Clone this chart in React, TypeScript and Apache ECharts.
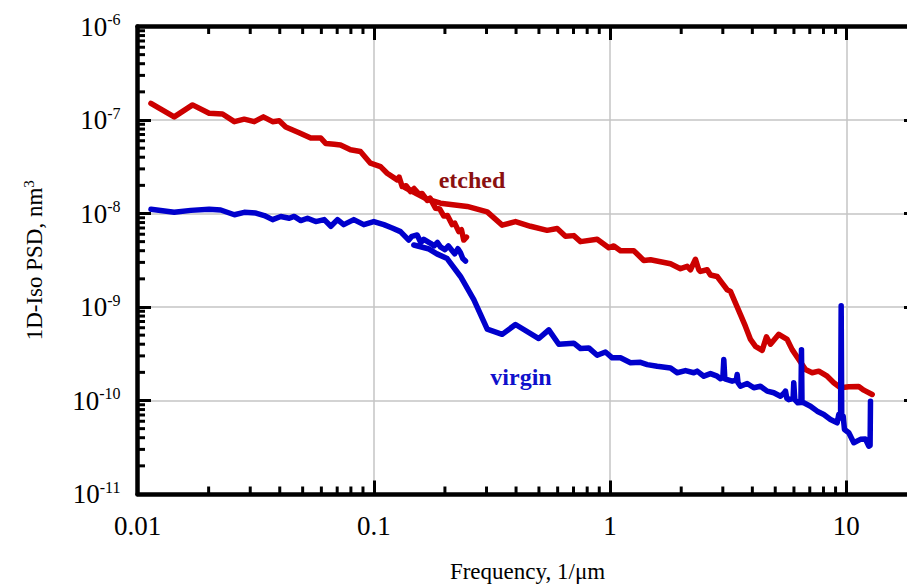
import React, { useEffect, useRef } from "react";
import * as echarts from "echarts";

const FONT = '"Liberation Serif", "Times New Roman", serif';

// x tick labels (decades)
const xTickLabels = ["0.01", "0.1", "1", "10"];
const minorMultipliers = [2, 3, 4, 5, 6, 7, 8, 9];
const xDecades = [0.01, 0.1, 1, 10];
const yDecades = [1e-11, 1e-10, 1e-9, 1e-8, 1e-7];

// etched sample, low-frequency scan
const etchedLow: [number, number][] = [
  [0.0114, 1.51e-7], [0.0143, 1.08e-7], [0.0171, 1.45e-7], [0.0201, 1.18e-7], [0.0229, 1.16e-7],
  [0.0257, 9.6e-8], [0.0283, 1.02e-7], [0.0312, 9.6e-8], [0.0341, 1.08e-7], [0.0373, 9.6e-8],
  [0.0398, 9.8e-8], [0.0424, 8.4e-8], [0.0483, 7.3e-8], [0.0541, 6.4e-8], [0.0597, 6.4e-8],
  [0.0627, 5.6e-8], [0.068, 5.5e-8], [0.0723, 5.4e-8], [0.0797, 4.8e-8], [0.0878, 4.6e-8],
  [0.0968, 3.45e-8], [0.1068, 3.17e-8], [0.1139, 2.7e-8], [0.1256, 2.29e-8], [0.128, 2.45e-8],
  [0.1319, 1.94e-8], [0.137, 1.98e-8], [0.143, 1.72e-8], [0.148, 1.85e-8], [0.155, 1.62e-8],
  [0.16, 1.64e-8], [0.1683, 1.38e-8], [0.173, 1.46e-8], [0.1824, 1.14e-8], [0.19, 1.12e-8],
  [0.1978, 9.4e-9], [0.205, 9.5e-9], [0.2147, 7.6e-9], [0.22, 7.9e-9], [0.2289, 6.4e-9],
  [0.235, 6.7e-9], [0.2403, 5.2e-9], [0.2468, 5.6e-9],
];

// etched sample, high-frequency scan
const etchedHigh: [number, number][] = [
  [0.136, 1.88e-8], [0.1683, 1.42e-8], [0.1915, 1.29e-8], [0.2485, 1.19e-8], [0.302, 1.04e-8],
  [0.3494, 7.5e-9], [0.3979, 8.2e-9], [0.4604, 7.3e-9], [0.5417, 6.6e-9], [0.5972, 6.9e-9],
  [0.6475, 5.7e-9], [0.7021, 5.8e-9], [0.7495, 5.0e-9], [0.8818, 5.3e-9], [0.9875, 4.3e-9],
  [1.037, 4.5e-9], [1.107, 4.0e-9], [1.26, 4.0e-9], [1.389, 3.15e-9], [1.483, 3.2e-9],
  [1.802, 2.9e-9], [1.986, 2.57e-9], [2.12, 2.72e-9], [2.189, 2.5e-9], [2.298, 3.24e-9],
  [2.374, 2.5e-9], [2.413, 2.4e-9], [2.576, 2.5e-9], [2.66, 2.2e-9], [2.839, 2.12e-9],
  [2.981, 1.8e-9], [3.13, 1.53e-9], [3.232, 1.47e-9], [3.395, 1.1e-9], [3.563, 8.3e-10],
  [3.741, 6.2e-10], [3.929, 4.5e-10], [4.124, 3.8e-10], [4.402, 3.44e-10], [4.59, 4.8e-10],
  [4.773, 4.0e-10], [5.175, 5.1e-10], [5.616, 4.5e-10], [5.897, 3.5e-10], [6.29, 2.74e-10],
  [6.713, 2.14e-10], [7.166, 1.98e-10], [7.641, 2.06e-10], [8.295, 1.82e-10], [8.846, 1.55e-10],
  [9.441, 1.37e-10], [10.24, 1.4e-10], [11.28, 1.41e-10], [11.85, 1.29e-10], [12.86, 1.16e-10],
];

// virgin sample, low-frequency scan
const virginLow: [number, number][] = [
  [0.0114, 1.11e-8], [0.0143, 1.03e-8], [0.0168, 1.08e-8], [0.0201, 1.11e-8], [0.0225, 1.09e-8],
  [0.0257, 9.7e-9], [0.0283, 1.03e-8], [0.0317, 1.01e-8], [0.0344, 9.5e-9], [0.0373, 8.6e-9],
  [0.0404, 9.3e-9], [0.0439, 8.9e-9], [0.046, 9.3e-9], [0.0491, 8.4e-9], [0.0524, 8.9e-9],
  [0.0568, 8.2e-9], [0.0617, 8.6e-9], [0.0658, 7.3e-9], [0.0702, 8.6e-9], [0.0746, 7.6e-9],
  [0.0823, 8.6e-9], [0.0907, 7.6e-9], [0.1, 8.2e-9], [0.1103, 7.6e-9], [0.1196, 7.0e-9],
  [0.1297, 6.4e-9], [0.1406, 5.2e-9], [0.145, 5.7e-9], [0.1526, 5.9e-9], [0.158, 4.9e-9],
  [0.1628, 5.3e-9], [0.1738, 4.8e-9], [0.18, 4.5e-9], [0.186, 4.9e-9], [0.1915, 4.4e-9],
  [0.2, 4.1e-9], [0.207, 4.5e-9], [0.2147, 4.0e-9], [0.22, 3.7e-9], [0.227, 4.2e-9],
  [0.2328, 3.8e-9], [0.238, 3.3e-9], [0.2444, 3.1e-9],
];

// virgin sample, high-frequency scan
const virginHigh: [number, number][] = [
  [0.1477, 4.6e-9], [0.17, 4.2e-9], [0.185, 3.7e-9], [0.2044, 3.3e-9], [0.2328, 2.12e-9],
  [0.265, 1.2e-9], [0.302, 5.8e-10], [0.3494, 5.1e-10], [0.3979, 6.5e-10], [0.4993, 4.6e-10],
  [0.5503, 5.7e-10], [0.6066, 4.0e-10], [0.7021, 4.1e-10], [0.7495, 3.6e-10], [0.8126, 3.65e-10],
  [0.8818, 3.05e-10], [0.956, 3.3e-10], [1.021, 2.86e-10], [1.107, 2.86e-10], [1.22, 2.53e-10],
  [1.345, 2.56e-10], [1.436, 2.42e-10], [1.582, 2.32e-10], [1.802, 2.23e-10], [1.923, 1.98e-10],
  [2.085, 2.09e-10], [2.261, 1.98e-10], [2.336, 2.06e-10], [2.493, 1.82e-10], [2.66, 1.94e-10],
  [2.839, 1.82e-10], [2.933, 1.71e-10], [3.0, 1.75e-10], [3.029, 2.74e-10], [3.06, 1.7e-10],
  [3.109, 1.68e-10], [3.286, 1.61e-10], [3.42, 1.65e-10], [3.451, 1.9e-10], [3.48, 1.55e-10],
  [3.563, 1.42e-10], [3.804, 1.52e-10], [4.057, 1.37e-10], [4.329, 1.42e-10], [4.622, 1.26e-10],
  [4.93, 1.21e-10], [5.262, 1.11e-10], [5.45, 1.2e-10], [5.525, 1.26e-10], [5.6, 1.05e-10],
  [5.704, 1.02e-10], [5.95, 1.05e-10], [5.989, 1.55e-10], [6.05, 1.02e-10], [6.227, 9.45e-11],
  [6.42, 9.5e-11], [6.457, 3.5e-10], [6.49, 9.5e-11], [6.603, 9.45e-11], [7.049, 8.69e-11],
  [7.523, 7.69e-11], [8.024, 7.09e-11], [8.565, 6.27e-11], [9.142, 5.78e-11], [9.286, 7.09e-11],
  [9.45, 6.5e-11], [9.506, 1.03e-9], [9.56, 6.5e-11], [9.694, 6.8e-11], [9.817, 4.9e-11],
  [10.24, 4.52e-11], [10.75, 3.54e-11], [11.47, 3.84e-11], [12.04, 3.87e-11], [12.44, 3.25e-11],
  [12.6, 3.3e-11], [12.65, 9.83e-11],
];

const X_MIN = 0.01;
const X_MAX = 20;
const Y_MIN = 1e-11;
const Y_MAX = 1e-6;

const RED = "#cc0000";
const BLUE = "#0000cc";

function isDecade(v: number) {
  const l = Math.log10(v);
  return Math.abs(l - Math.round(l)) < 1e-6;
}

export default function App() {
  const ref = useRef<HTMLDivElement>(null);

  useEffect(() => {
    if (!ref.current) return;
    const chart = echarts.init(ref.current, null, { renderer: "svg" });

    const xMinor: number[][] = [];
    xDecades.forEach((d) => minorMultipliers.forEach((m) => xMinor.push([d * m])));
    const yMinor: number[][] = [];
    yDecades.forEach((d) => minorMultipliers.forEach((m) => yMinor.push([d * m])));

    const tickSeries = (data: number[][], dir: [number, number]) => ({
      type: "custom",
      silent: true,
      clip: false,
      z: 5,
      data,
      renderItem: (_params: any, api: any) => {
        const p = api.coord([api.value(0), api.value(1)]);
        return {
          type: "line",
          shape: { x1: p[0], y1: p[1], x2: p[0] + dir[0] * 7.5, y2: p[1] + dir[1] * 7.5 },
          style: { stroke: "#000", lineWidth: 3 },
        };
      },
    });

    const axisCommon = {
      type: "log",
      logBase: 10,
      axisLine: { show: true, onZero: false, lineStyle: { color: "#000", width: 4.5 } },
      axisTick: { show: true, inside: true, length: 13.5, lineStyle: { color: "#000", width: 3 } },
      minorTick: { show: false },
      minorSplitLine: { show: false },
    };

    const lineSeries = (name: string, data: [number, number][], color: string) => ({
      name,
      type: "line",
      data,
      showSymbol: false,
      symbol: "none",
      smooth: false,
      z: 10,
      lineStyle: { color, width: 5.5, join: "round", cap: "round" },
      itemStyle: { color },
    });

    chart.setOption({
      animation: false,
      backgroundColor: "#ffffff",
      grid: {
        left: 137.5,
        top: 26.5,
        right: -10.5,
        bottom: 91,
        containLabel: false,
        outerBoundsMode: "none",
      },
      xAxis: [
        {
          ...axisCommon,
          min: X_MIN,
          max: X_MAX,
          position: "bottom",
          axisLabel: {
            show: true,
            margin: 18,
            fontSize: 27,
            fontFamily: FONT,
            color: "#000",
            formatter: (v: number) => {
              if (!isDecade(v)) return "";
              const i = Math.round(Math.log10(v)) + 2;
              return xTickLabels[i] ?? "";
            },
          },
          splitLine: { show: true, lineStyle: { color: "#c4c4c4", width: 1.5 } },
          name: "Frequency, 1/μm",
          nameLocation: "middle",
          nameGap: 66,
          nameTextStyle: { fontSize: 23, fontFamily: FONT, color: "#000" },
        },
        {
          ...axisCommon,
          min: X_MIN,
          max: X_MAX,
          position: "top",
          axisLabel: { show: false },
          splitLine: { show: false },
        },
      ],
      yAxis: [
        {
          ...axisCommon,
          min: Y_MIN,
          max: Y_MAX,
          position: "left",
          axisLabel: {
            show: true,
            margin: 17,
            color: "#000",
            fontFamily: FONT,
            formatter: (v: number) => {
              if (!isDecade(v)) return "";
              const e = Math.round(Math.log10(v));
              return `{b|10}{s|${e}}`;
            },
            rich: {
              b: { fontSize: 27, fontFamily: FONT, color: "#000", lineHeight: 30 },
              s: { fontSize: 16, fontFamily: FONT, color: "#000", verticalAlign: "top", lineHeight: 16 },
            },
          },
          splitLine: { show: true, lineStyle: { color: "#c4c4c4", width: 1.5 } },
          name: "{a|1D-Iso PSD, nm}{s|3}",
          nameLocation: "middle",
          nameGap: 90,
          nameTextStyle: {
            fontSize: 23,
            fontFamily: FONT,
            color: "#000",
            rich: {
              a: { fontSize: 23, fontFamily: FONT, color: "#000", lineHeight: 26 },
              s: { fontSize: 15, fontFamily: FONT, color: "#000", verticalAlign: "top", lineHeight: 15 },
            },
          },
        },
        {
          ...axisCommon,
          min: Y_MIN,
          max: Y_MAX,
          position: "right",
          axisLabel: { show: false },
          splitLine: { show: false },
        },
      ],
      series: [
        { ...tickSeries(xMinor.map((d) => [d[0], Y_MIN]), [0, -1]) },
        { ...tickSeries(xMinor.map((d) => [d[0], Y_MAX]), [0, 1]) },
        { ...tickSeries(yMinor.map((d) => [X_MIN, d[0]]), [1, 0]) },
        lineSeries("etched low", etchedLow, RED),
        lineSeries("etched high", etchedHigh, RED),
        lineSeries("virgin low", virginLow, BLUE),
        lineSeries("virgin high", virginHigh, BLUE),
      ],
      graphic: [
        {
          type: "text",
          x: 472,
          y: 180,
          z: 20,
          style: {
            text: "etched",
            fill: "#8b1010",
            font: `bold 24px ${FONT}`,
            align: "center",
            verticalAlign: "middle",
          },
        },
        {
          type: "text",
          x: 521,
          y: 377,
          z: 20,
          style: {
            text: "virgin",
            fill: "#1010cc",
            font: `bold 24px ${FONT}`,
            align: "center",
            verticalAlign: "middle",
          },
        },
      ],
    });

    return () => chart.dispose();
  }, []);

  return (
    <div
      ref={ref}
      style={{ position: "absolute", left: 0, top: 0, width: 907, height: 585 }}
    />
  );
}
